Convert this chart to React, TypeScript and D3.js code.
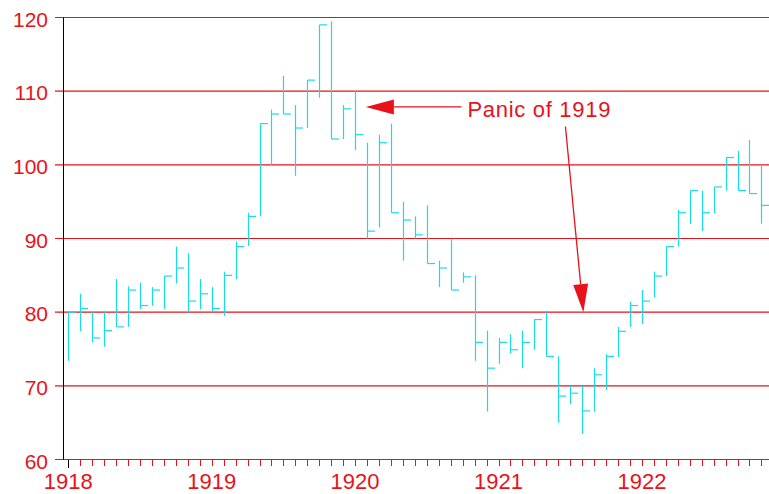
import React from "react";
import * as d3 from "d3";

// Monthly bars, Jan 1918 .. Nov 1922
const highs = [
  80, 82.5, 80, 80, 84.5, 83.5, 84, 83.4, 84.9, 88.9, 88, 84.5,
  83.4, 85.5, 89.6, 93.5, 105.6, 107.5, 112.1, 108.1, 111.5, 119.0, 119.5, 108.1,
  110, 103.0, 104.1, 105.6, 95.0, 93.0, 94.5, 87.0, 90.0, 85.4, 85.0, 77.5,
  76.5, 77.0, 77.5, 79.0, 80.0, 74.0, 70.0, 70.0, 72.4, 74.3, 78.0, 81.4,
  83.0, 85.5, 88.9, 93.9, 96.5, 96.5, 97.0, 101.0, 101.9, 103.4, 100,
];
const lows = [
  73.4, 77.4, 75.9, 75.3, 78, 78, 80.4, 80.9, 80.4, 83.9, 80, 80.4,
  80, 79.5, 84.5, 89.0, 93.0, 100.0, 106.9, 98.5, 105.0, 109.1, 103.5, 103.5,
  102, 90.0, 91.5, 93.5, 87.0, 90.0, 86.6, 83.4, 83.0, 84.0, 73.4, 66.5,
  73.0, 74.4, 72.4, 74.9, 74.0, 65.0, 67.5, 63.5, 66.5, 69.4, 73.9, 78.0,
  78.4, 82.0, 84.9, 88.9, 92.0, 91.0, 93.4, 96.5, 96.5, 96.1, 92.0,
];
const closes = [
  80, 80.5, 76.5, 77.5, 78, 83, 80.9, 83, 84.9, 86, 81.5, 82.5,
  80.5, 85, 88.9, 93.0, 105.6, 106.9, 106.9, 105.0, 111.5, 119.0, 103.5, 107.6,
  104.1, 91.0, 103.0, 93.5, 92.5, 90.5, 86.6, 86.0, 83.0, 84.8, 75.9, 72.4,
  75.9, 74.9, 75.9, 79.0, 74.0, 68.6, 69.0, 66.6, 71.5, 74.0, 77.4, 80.9,
  81.5, 84.9, 88.9, 93.5, 96.5, 93.5, 97.0, 101.0, 96.5, 96.1, 94.5,
];
const yearLabels = ["1918", "1919", "1920", "1921", "1922"];
const yTicks = [60, 70, 80, 90, 100, 110, 120];
const annotationText = "Panic of 1919";
// annotation anchors in data space: [monthIndex, value]
const arrow1From = [32.9, 107.86];
const arrow1To = [24.9, 107.86];
const arrow2From = [41.6, 105.2];
const arrow2To = [43.1, 80.0];
const textAnchor = [33.4, 106.5];

const RED = "#e8121a";
const CYAN = "#19dde6";

export default function App() {
  const W = 769;
  const H = 494;
  const x = d3.scaleLinear().domain([0, 58]).range([68.3, 761.4]);
  const y = d3.scaleLinear().domain([60, 120]).range([459.5, 17.5]);
  const axisX = 63.5;
  const months = d3.range(highs.length);

  const arrowHead = (fx: number, fy: number, tx: number, ty: number) => {
    const len = 28;
    const half = 7.5;
    const dx = tx - fx;
    const dy = ty - fy;
    const d = Math.hypot(dx, dy);
    const ux = dx / d;
    const uy = dy / d;
    const bx = tx - ux * len;
    const by = ty - uy * len;
    const px = -uy;
    const py = ux;
    return {
      line: { x1: fx, y1: fy, x2: bx, y2: by },
      points: `${tx},${ty} ${bx + px * half},${by + py * half} ${bx - px * half},${by - py * half}`,
    };
  };

  const a1 = arrowHead(x(arrow1From[0]), y(arrow1From[1]), x(arrow1To[0]), y(arrow1To[1]));
  const a2 = arrowHead(x(arrow2From[0]), y(arrow2From[1]), x(arrow2To[0]), y(arrow2To[1]));

  return (
    <svg
      width={W}
      height={H}
      style={{ position: "absolute", left: 0, top: 0, background: "#fff" }}
      fontFamily="'Liberation Sans', Arial, sans-serif"
    >
      {/* grid lines */}
      {yTicks.map((t) => (
        <line key={"g" + t} x1={55} x2={W} y1={y(t)} y2={y(t)} stroke={RED} strokeWidth={1.2} />
      ))}
      {/* y labels */}
      {yTicks.map((t) => (
        <text key={"yl" + t} x={48} y={y(t) + 9} fill={RED} fontSize={21} textAnchor="end">
          {t}
        </text>
      ))}
      {/* x ticks */}
      {months.map((i) => (
        <line
          key={"xt" + i}
          x1={Math.round(x(i)) + 0.5}
          x2={Math.round(x(i)) + 0.5}
          y1={460}
          y2={i === 0 ? 468 : 466}
          stroke={i === 0 ? "#000" : RED}
          strokeWidth={1}
        />
      ))}
      {/* year labels */}
      {yearLabels.map((lab, k) => (
        <text key={lab} x={x(k * 12)} y={489} fill={RED} fontSize={22} textAnchor="middle">
          {lab}
        </text>
      ))}
      {/* y axis */}
      <line x1={axisX} x2={axisX} y1={y(120)} y2={y(60)} stroke="#000" strokeWidth={1} />
      {/* bars */}
      {months.map((i) => {
        const cx = Math.round(x(i)) + 0.5;
        return (
          <g key={"b" + i} stroke={CYAN} strokeWidth={1.2}>
            <line x1={cx} x2={cx} y1={y(highs[i])} y2={y(lows[i])} />
            <line x1={cx} x2={cx + 7.5} y1={y(closes[i])} y2={y(closes[i])} />
          </g>
        );
      })}
      {/* annotation */}
      <line {...a1.line} stroke={RED} strokeWidth={1.3} />
      <polygon points={a1.points} fill={RED} />
      <line {...a2.line} stroke={RED} strokeWidth={1.3} />
      <polygon points={a2.points} fill={RED} />
      <text
        x={x(textAnchor[0])}
        y={y(textAnchor[1])}
        fill={RED}
        fontSize={22}
        textLength={143}
        lengthAdjust="spacing"
      >
        {annotationText}
      </text>
    </svg>
  );
}
